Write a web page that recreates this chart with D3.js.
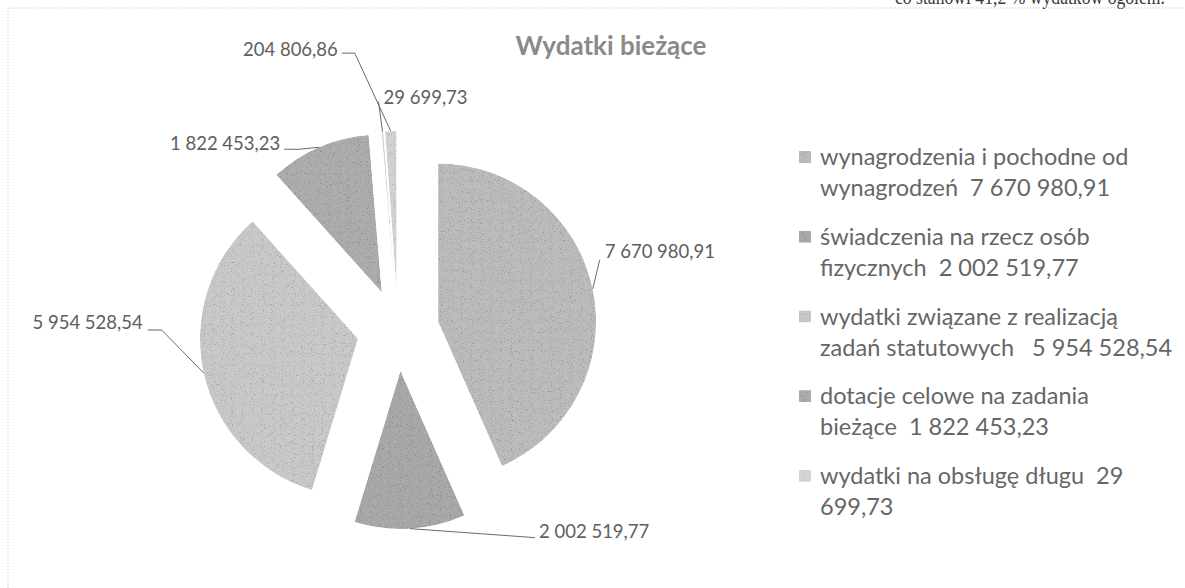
<!DOCTYPE html>
<html>
<head>
<meta charset="utf-8">
<script src="https://cdn.jsdelivr.net/npm/d3@7/dist/d3.min.js"></script>
<style>
    body { margin: 0; background: #fff; }
    svg { display: block; font-family: Lato, "Open Sans", sans-serif; }
    text { white-space: pre; }
</style>
</head>
<body>
<svg id="chart" width="1185" height="588"></svg>
<script>
// data
const categories = [
    "wynagrodzenia i pochodne od wynagrodzeń",
    "świadczenia na rzecz osób fizycznych",
    "wydatki związane z realizacją zadań statutowych ",
    "dotacje celowe na zadania bieżące",
    "wydatki na obsługę długu",
    "pozostałe"
];
const values = [7670980.91, 2002519.77, 5954528.54, 1822453.23, 29699.73, 204806.86];
const shades = ["#bcbcbc", "#a9a9a9", "#c9c9c9", "#adadad", "#d6d6d6", "#d3d3d3"];
const legendFirstLineWords = [4, 4, 4, 4, 5]; // where the legend text box broke each entry
const chartTitle = "Wydatki bieżące";
const legendShown = 5; // the last entry did not fit in the legend box
const pageNote = "co stanowi 41,2 % wydatków ogółem.";

// where each data label sits: elbow of the leader relative to the slice edge,
// horizontal stub, text offset from the end of the stub
const labelLayout = [
    { elbow: [7, -29], stub: 0, text: [5, -8], anchor: "start" },
    { elbow: [125, 9], stub: 0, text: [4, -6], anchor: "start" },
    { elbow: [-42, -43], stub: -14, text: [-5, -7], anchor: "end" },
    { elbow: [-20, 2], stub: -15, text: [-4, -6], anchor: "end" },
    { elbow: [-4, -30], stub: 0, text: [5, -4], anchor: "start" },
    { elbow: [-36, -78], stub: -13, text: [-4, -4], anchor: "end" }
];

const width = 1185, height = 588;
const cx = 398, cy = 330, radius = 158, explode = 41;

const pl = d3.formatLocale({ decimal: ",", thousands: " ", grouping: [3], currency: ["", ""] });
const fmt = pl.format(",.2f");

const svg = d3.select("#chart");

// halftone-ish grain of the scan
const defs = svg.append("defs");
const grain = defs.append("filter")
    .attr("id", "grain")
    .attr("filterUnits", "userSpaceOnUse")
    .attr("x", -600).attr("y", -600).attr("width", 2400).attr("height", 1800)
    .attr("color-interpolation-filters", "sRGB");
grain.append("feTurbulence")
    .attr("type", "fractalNoise")
    .attr("baseFrequency", 0.9)
    .attr("numOctaves", 1)
    .attr("seed", 7)
    .attr("result", "noise");
grain.append("feColorMatrix")
    .attr("in", "noise")
    .attr("type", "matrix")
    .attr("values", "0.33 0.33 0.33 0 0  0.33 0.33 0.33 0 0  0.33 0.33 0.33 0 0  0 0 0 0 1")
    .attr("result", "gray");
const ct = grain.append("feComponentTransfer").attr("in", "gray").attr("result", "mult");
["feFuncR", "feFuncG", "feFuncB"].forEach(f => {
    ct.append(f).attr("type", "linear").attr("slope", 1.5).attr("intercept", 0.3);
});
grain.append("feBlend")
    .attr("in", "SourceGraphic").attr("in2", "mult")
    .attr("mode", "multiply").attr("result", "blend");
grain.append("feComposite")
    .attr("in", "blend").attr("in2", "SourceGraphic")
    .attr("operator", "in");

// cut-off line of the surrounding document and the dotted chart frame
svg.append("text")
    .attr("x", 895).attr("y", 4)
    .attr("font-family", "'Liberation Serif', serif")
    .attr("font-size", 20)
    .attr("fill", "#3a3a3a")
    .attr("textLength", 270)
    .attr("lengthAdjust", "spacingAndGlyphs")
    .text(pageNote);

svg.append("path")
    .attr("d", `M8,${height} V8 H${width}`)
    .attr("fill", "none")
    .attr("stroke", "#bdbdbd")
    .attr("stroke-dasharray", "1,2");

svg.append("text")
    .attr("x", 611).attr("y", 46).attr("dy", "0.35em")
    .attr("text-anchor", "middle")
    .attr("font-size", 26)
    .attr("font-weight", "bold")
    .attr("fill", "#8a8a8a")
    .text(chartTitle);

const data = categories.map((c, i) => ({ name: c, value: values[i], color: shades[i], i: i }));

const pie = d3.pie().sort(null).value(d => d.value);
const arcs = pie(data);
const arc = d3.arc().innerRadius(0).outerRadius(radius);
const rim = d3.arc().innerRadius(radius).outerRadius(radius);

const shift = d => {
    const mid = (d.startAngle + d.endAngle) / 2;
    return [Math.sin(mid) * explode, -Math.cos(mid) * explode];
};

const pieG = svg.append("g").attr("transform", `translate(${cx},${cy})`);

pieG.selectAll("path.slice")
    .data(arcs)
    .enter().append("path")
    .attr("class", "slice")
    .attr("transform", d => `translate(${shift(d)})`)
    .attr("d", arc)
    .attr("fill", d => d.data.color)
    .attr("filter", "url(#grain)");

// data labels with leader lines
const line = d3.line();
const labels = pieG.selectAll("g.label")
    .data(arcs)
    .enter().append("g")
    .attr("class", "label");

labels.each(function (d) {
    const g = d3.select(this);
    const lay = labelLayout[d.index];
    const s = shift(d);
    const c = rim.centroid(d);
    const a = [c[0] + s[0], c[1] + s[1]];
    const e = [a[0] + lay.elbow[0], a[1] + lay.elbow[1]];
    const t = [e[0] + lay.stub, e[1]];
    const pts = lay.stub ? [a, e, t] : [a, e];

    g.append("path")
        .attr("d", line(pts))
        .attr("fill", "none")
        .attr("stroke", "#6a6a6a")
        .attr("stroke-width", 1);

    g.append("text")
        .attr("x", t[0] + lay.text[0])
        .attr("y", t[1] + lay.text[1])
        .attr("dy", "0.35em")
        .attr("text-anchor", lay.anchor)
        .attr("font-size", 18.5)
        .attr("fill", "#5e5e5e")
        .text(fmt(d.data.value));
});

// legend, broken into two lines like the original text box
const legendX = 799, legendTop = 157, legendStep = 79.7, lineStep = 31;
const legendSize = 23.5;

function splitLegend(str, n) {
    const tokens = str.split(/( +)/);
    const first = tokens.slice(0, n * 2 - 1).join("");
    const rest = tokens.slice(n * 2).join("");
    return rest ? [first, rest] : [first];
}

const legend = svg.append("g").attr("class", "legend");

data.slice(0, legendShown).forEach((d, i) => {
    const y0 = legendTop + i * legendStep;
    legend.append("rect")
        .attr("x", legendX).attr("y", y0 - 6)
        .attr("width", 12).attr("height", 12)
        .attr("fill", d.color)
        .attr("filter", "url(#grain)");

    const lines = splitLegend(d.name + "  " + fmt(d.value), legendFirstLineWords[i]);
    lines.forEach((ln, j) => {
        legend.append("text")
            .attr("x", legendX + 21)
            .attr("y", y0 + j * lineStep)
            .attr("dy", "0.35em")
            .attr("font-size", legendSize)
            .attr("fill", "#666")
            .text(ln);
    });
});
</script>
</body>
</html>
